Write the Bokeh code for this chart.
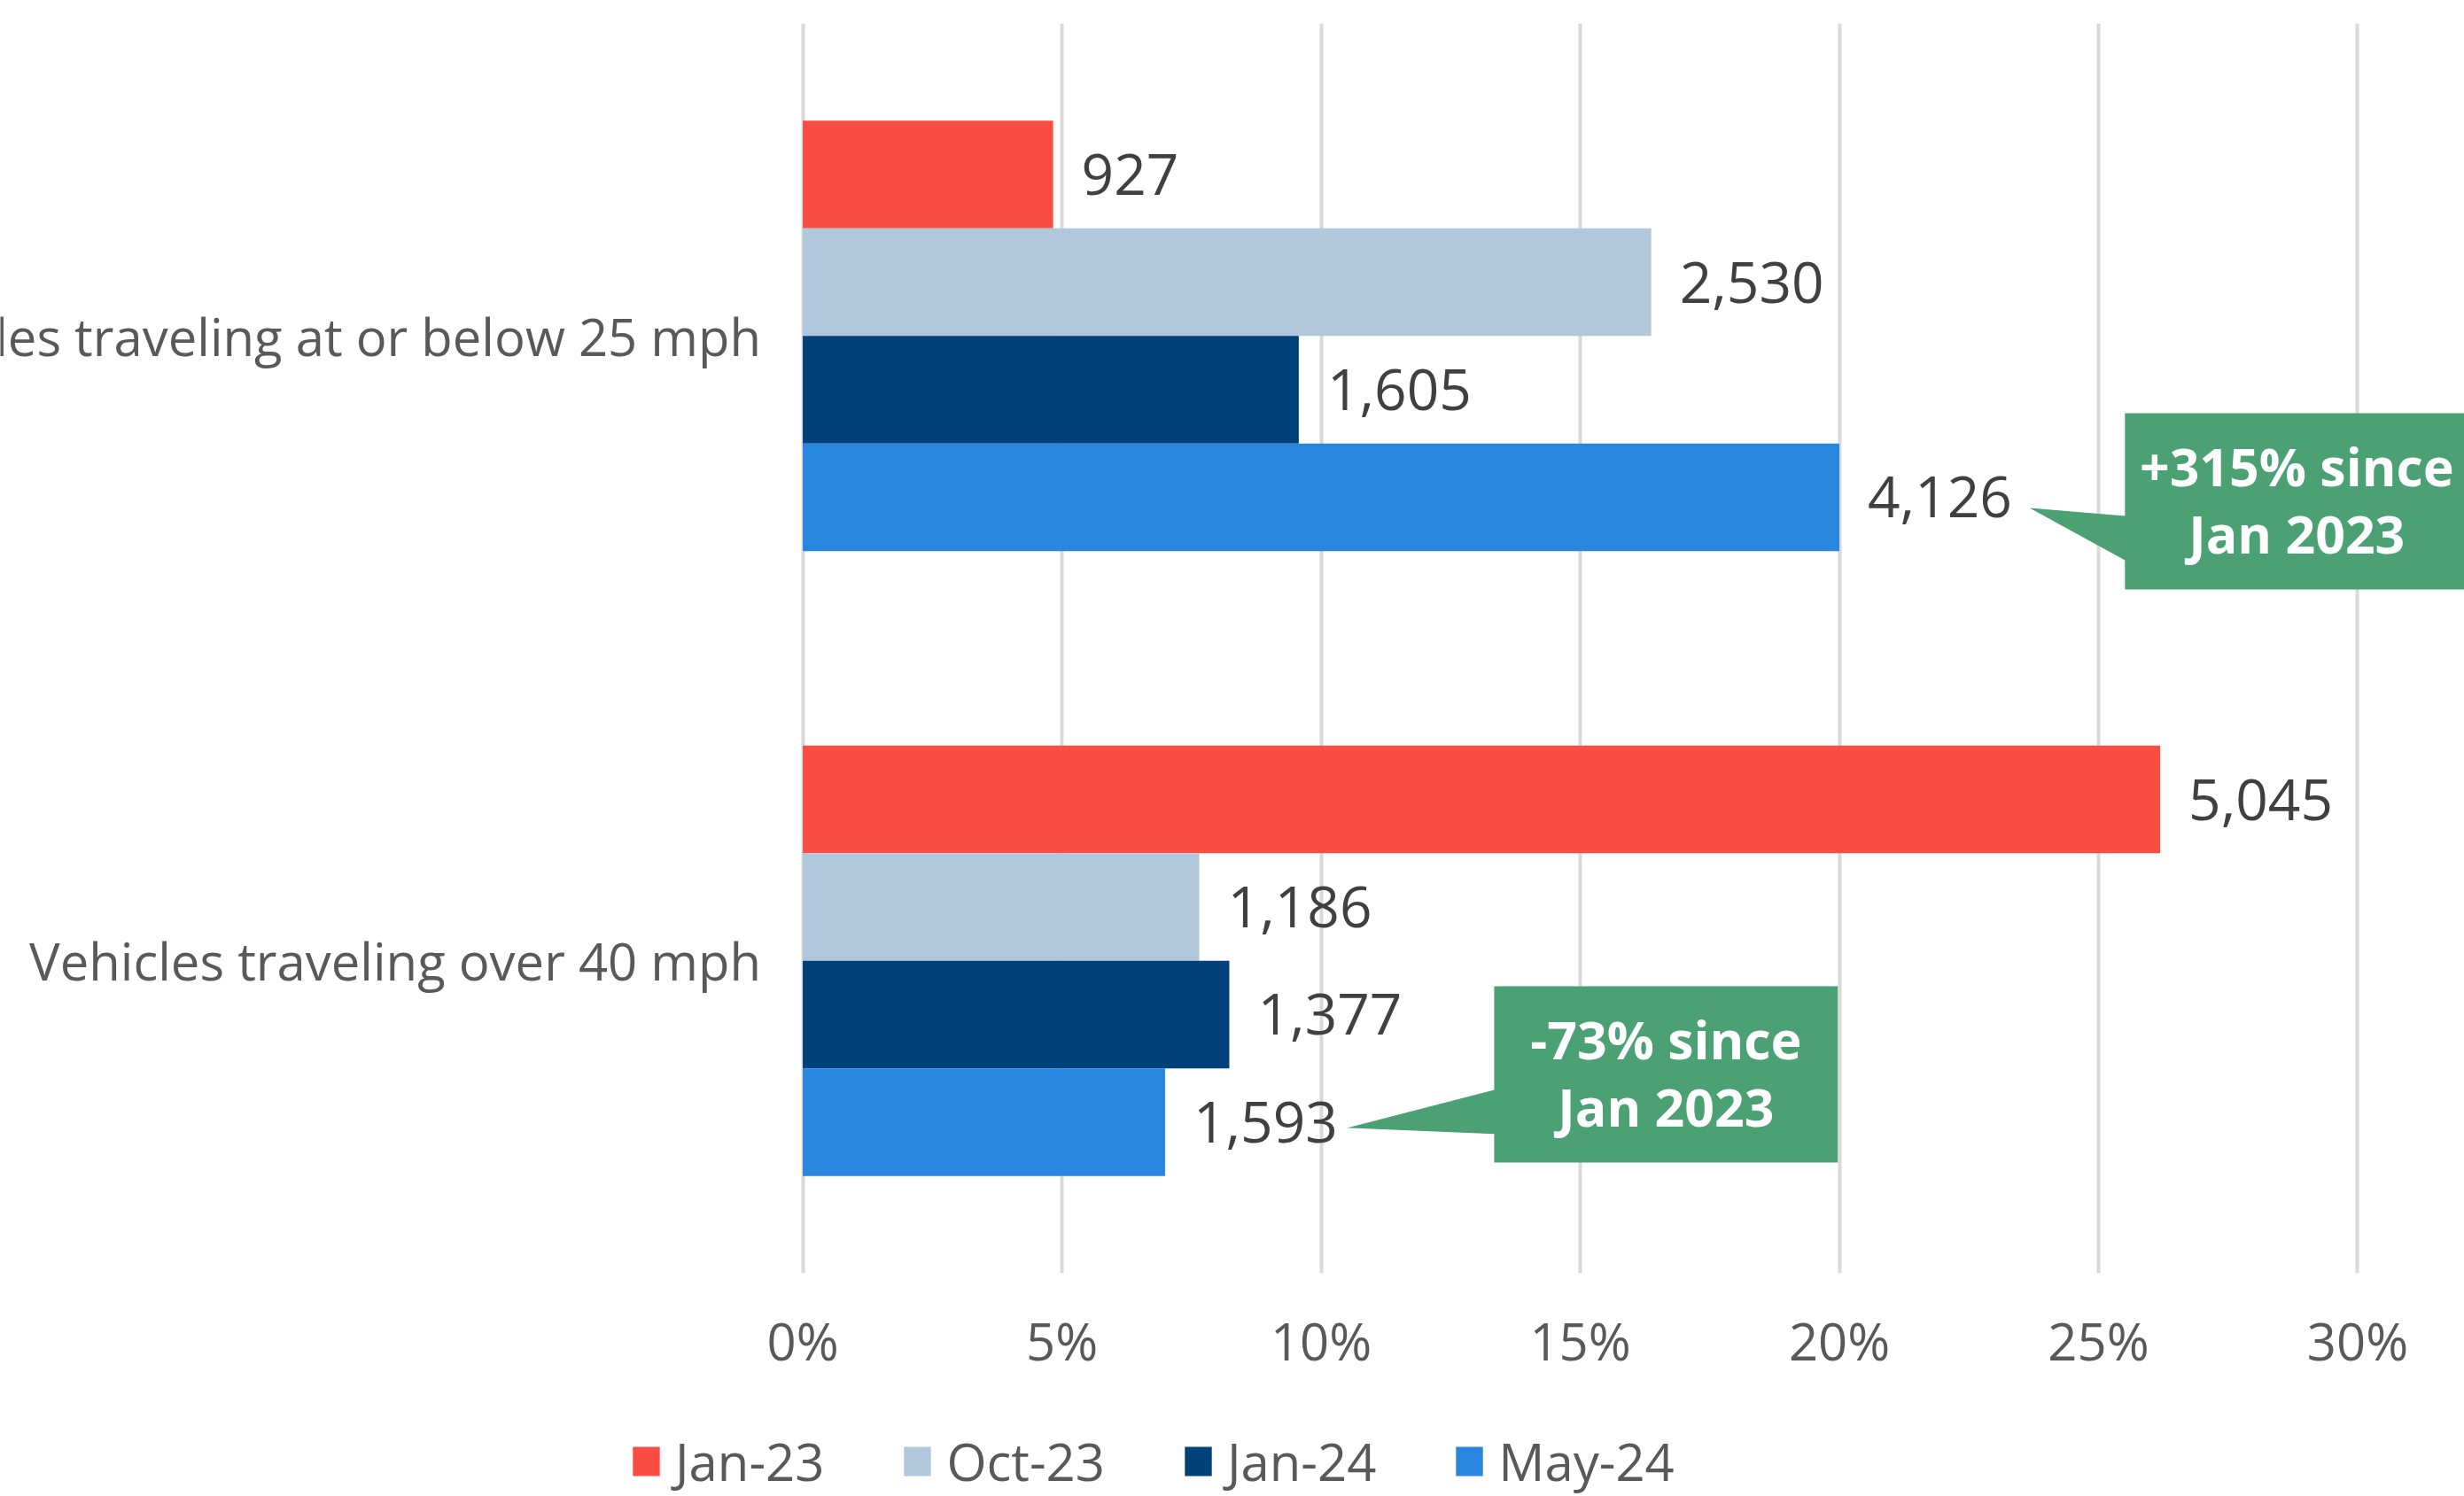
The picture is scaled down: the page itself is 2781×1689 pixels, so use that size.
from bokeh.plotting import figure
from bokeh.models import (ColumnDataSource, FactorRange, Range1d, FixedTicker,
                          PrintfTickFormatter, Legend, LegendItem)
from bokeh.layouts import column
from bokeh.transform import dodge
from bokeh.core.properties import value
from bokeh.embed import file_html
from bokeh.resources import INLINE

# ---------------- data ----------------
categories = ["Vehicles traveling at or below 25 mph", "Vehicles traveling over 40 mph"]
series_names = ["Jan-23", "Oct-23", "Jan-24", "May-24"]
jan23_pct = [4.83, 26.19]
oct23_pct = [16.37, 7.65]
jan24_pct = [9.57, 8.23]
may24_pct = [20.0, 6.99]
jan23_count = [927, 5045]
oct23_count = [2530, 1186]
jan24_count = [1605, 1377]
may24_count = [4126, 1593]
x_ticks = [0, 5, 10, 15, 20, 25, 30]
callout_texts = ["+315% since\nJan 2023", "-73% since\nJan 2023"]

# ---------------- style ----------------
colors = ["#F94C43", "#B0C7DC", "#00417A", "#2886DF"]
GREEN = "#4BA074"
FONT = "Open Sans"
BAR_H = 0.1722
W, H = 2781, 1689
MAIN_H = 1577

pcts = [jan23_pct, oct23_pct, jan24_pct, may24_pct]
counts = [jan23_count, oct23_count, jan24_count, may24_count]

y_factors = list(reversed(categories))
p = figure(width=W, height=MAIN_H,
           y_range=FactorRange(factors=y_factors, range_padding=0),
           x_range=Range1d(-15.48, 32.06),
           output_backend="svg", toolbar_location=None, y_axis_location=None,
           min_border_left=0, min_border_right=0, min_border_top=26,
           min_border_bottom=MAIN_H - 26 - 1411, outline_line_color=None,
           background_fill_color="white", border_fill_color="white")

bar_renderers = []
for i, name in enumerate(series_names):
    src = ColumnDataSource(dict(cat=categories, pct=pcts[i],
                                label=[f"{c:,}" for c in counts[i]]))
    off = (1.5 - i) * BAR_H
    r = p.hbar(y=dodge("cat", off, range=p.y_range), left=0, right="pct",
               height=BAR_H, source=src, fill_color=colors[i], line_color=None)
    bar_renderers.append(r)
    p.text(x="pct", y=dodge("cat", off, range=p.y_range), text="label",
           source=src, x_offset=32, text_align="left", text_baseline="middle",
           text_font=value(FONT), text_font_size="64px", text_color="#404040")

# category labels
cat_src = ColumnDataSource(dict(cat=categories, x=[0] * len(categories)))
p.text(x="x", y="cat", text="cat", source=cat_src, x_offset=-47,
       text_align="right", text_baseline="middle", text_font=value(FONT),
       text_font_size="58px", text_color="#595959")

# callouts (layout: box x-extent, pointer tip, vertical offsets from category centre)
callouts = [
    dict(cat=categories[0], x0=25.51, x1=32.14, tip_x=23.67,
         top=-0.1237, bottom=-0.4057, tip=-0.2753, base_top=-0.2881, base_bot=-0.3590),
    dict(cat=categories[1], x0=13.34, x1=19.97, tip_x=10.50,
         top=-0.0408, bottom=-0.3228, tip=-0.2675, base_top=-0.2066, base_bot=-0.2771),
]
xs, ys, tx, ty = [], [], [], []
for c in callouts:
    cy = y_factors.index(c["cat"]) + 0.5
    xs.append([c["x0"], c["x1"], c["x1"], c["x0"], c["x0"], c["tip_x"], c["x0"]])
    ys.append([cy + c["top"], cy + c["top"], cy + c["bottom"], cy + c["bottom"],
               cy + c["base_bot"], cy + c["tip"], cy + c["base_top"]])
    tx.append((c["x0"] + c["x1"]) / 2)
    ty.append(cy + (c["top"] + c["bottom"]) / 2 + 0.003)
p.patches(xs=xs, ys=ys, fill_color=GREEN, line_color=None)
p.text(x=tx, y=ty, text=callout_texts, text_align="center", text_baseline="middle",
       text_font=value(FONT), text_font_size="59px", text_font_style="bold",
       text_color="white", text_line_height=0.95)

# grid & axis
p.xgrid.ticker = FixedTicker(ticks=x_ticks)
p.xgrid.grid_line_color = "#d9d9d9"
p.xgrid.grid_line_width = 4
p.ygrid.grid_line_color = None
p.xaxis.ticker = FixedTicker(ticks=x_ticks)
p.xaxis.formatter = PrintfTickFormatter(format="%d%%")
p.xaxis.axis_line_color = None
p.xaxis.major_tick_line_color = None
p.xaxis.minor_tick_line_color = None
p.xaxis.major_tick_out = 0
p.xaxis.major_tick_in = 0
p.xaxis.major_label_standoff = 36
p.xaxis.major_label_text_font = FONT
p.xaxis.major_label_text_font_size = "58px"
p.xaxis.major_label_text_color = "#595959"

# legend strip (separate figure below the chart); swatch renderers sit outside its view
p2 = figure(width=W, height=H - MAIN_H, x_range=Range1d(0, W), y_range=Range1d(0, H - MAIN_H),
            output_backend="svg", toolbar_location=None,
            x_axis_location=None, y_axis_location=None,
            min_border_left=0, min_border_right=0, min_border_top=0, min_border_bottom=0,
            outline_line_color=None, background_fill_color="white",
            border_fill_color="white")
p2.xgrid.visible = False
p2.ygrid.visible = False
legend_renderers = [p2.hbar(y=[-100], left=[0], right=[1], height=1,
                            fill_color=colors[i], line_color=None)
                    for i in range(len(series_names))]
lg = Legend(items=[LegendItem(label=n, renderers=[r])
                   for n, r in zip(series_names, legend_renderers)])
lg.orientation = "horizontal"
lg.location = (710, 0)
lg.border_line_color = None
lg.background_fill_alpha = 0
lg.glyph_width = 38
lg.glyph_height = 41
lg.label_standoff = 14
lg.spacing = 86
lg.padding = 0
lg.margin = 0
lg.label_text_font = FONT
lg.label_text_font_size = "58px"
lg.label_text_color = "#595959"
p2.add_layout(lg)

open("out.html", "w").write(file_html(column(p, p2, spacing=0), INLINE))
